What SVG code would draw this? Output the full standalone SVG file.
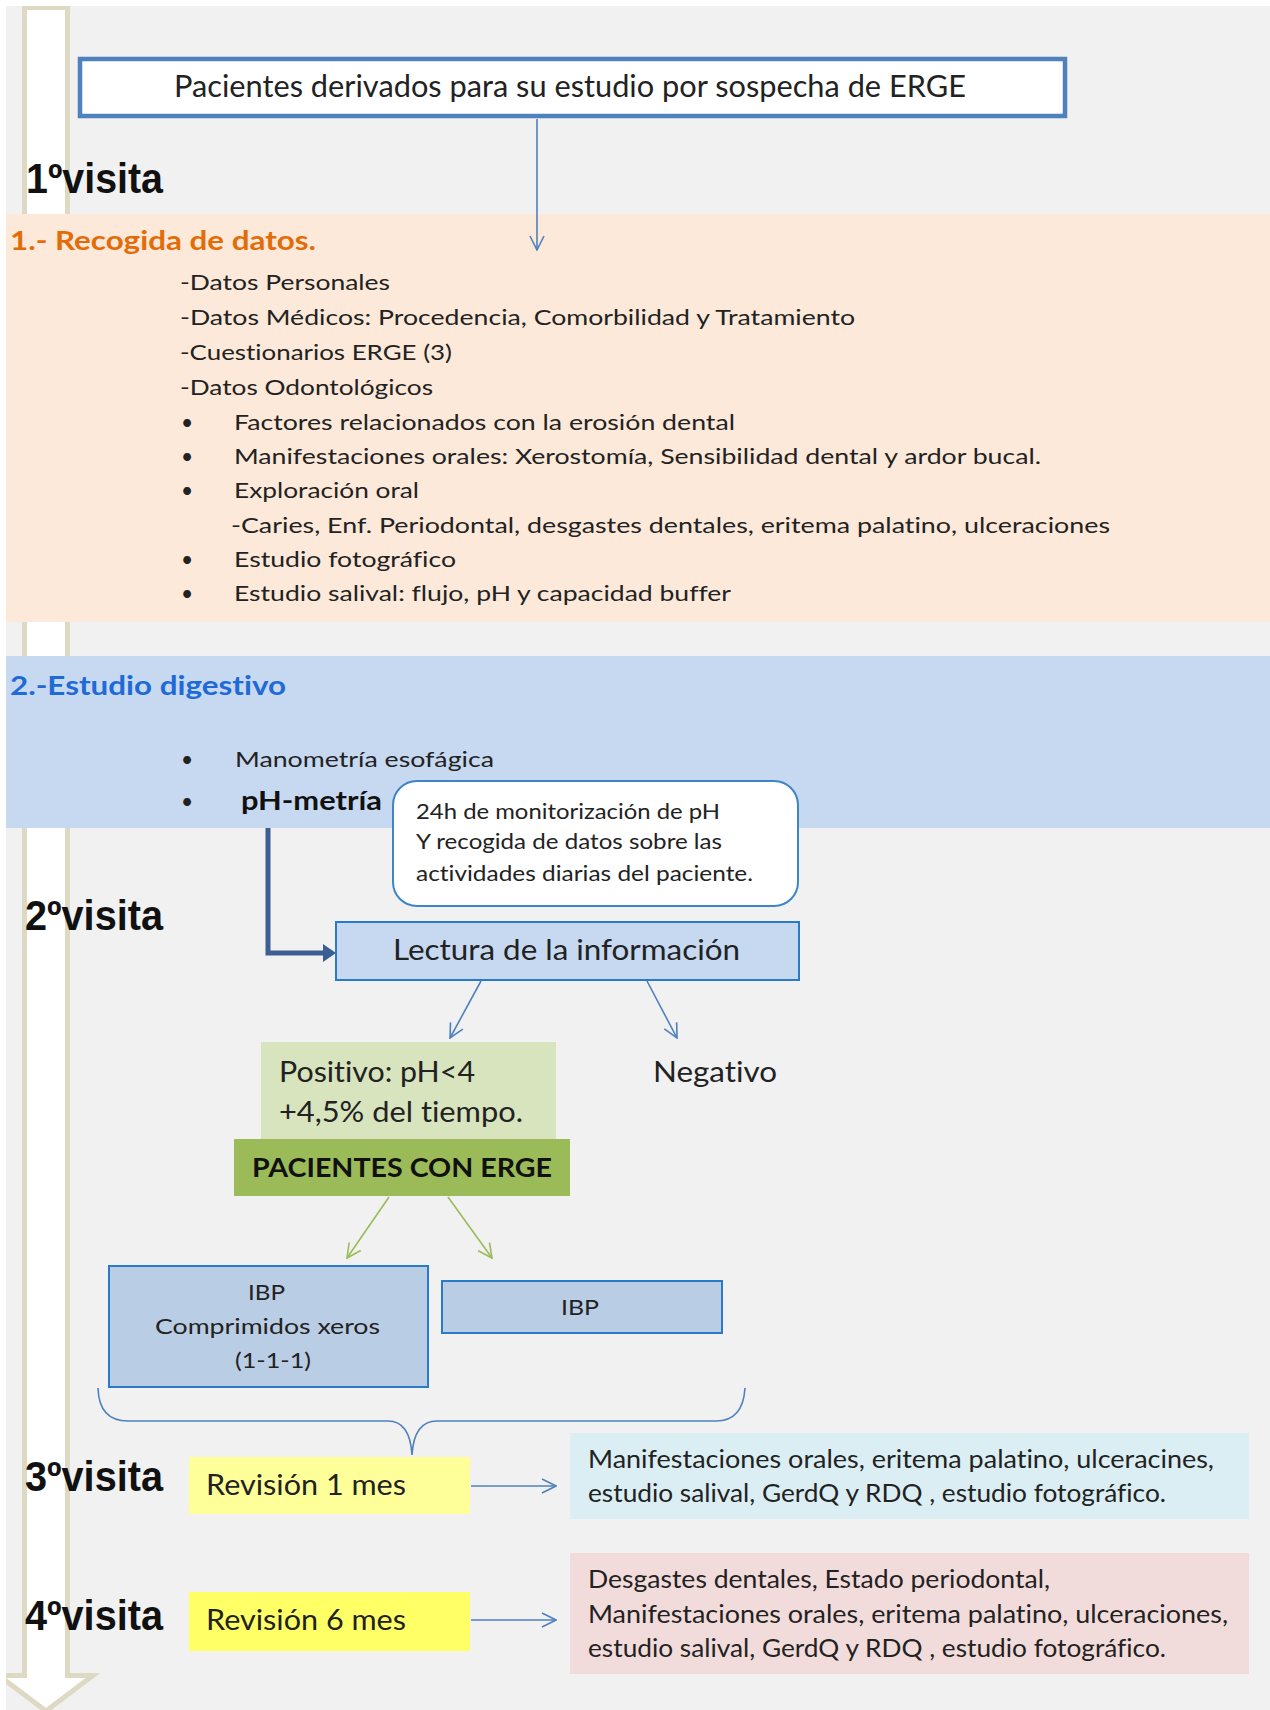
<svg xmlns="http://www.w3.org/2000/svg" width="1270" height="1710" viewBox="0 0 1270 1710">
<defs>
<style>
text{font-family:Lato,'Liberation Sans',Arial,sans-serif;fill:#222;font-variant-ligatures:none}
.b{font-weight:bold}
.visit{font-family:'Liberation Sans',Arial,sans-serif;font-size:42px;font-weight:bold;fill:#111}
.list{font-size:21px}
.cl{font-size:22px}
.mid{font-size:28px}
.sm{font-size:21px}
.det{font-size:25px}
.conn{fill:none;stroke:#4f81bd;stroke-width:1.6}
.gconn{fill:none;stroke:#9bbb59;stroke-width:1.6}
.box{fill:#c6d9f1;stroke:#2a7ac8;stroke-width:2}
.ibp{fill:#b9cde5;stroke:#2a7ac8;stroke-width:2}
</style>
<marker id="ab" viewBox="0 0 16 16" refX="15" refY="8" markerWidth="16" markerHeight="16" markerUnits="userSpaceOnUse" orient="auto"><path d="M1,1 L15,8 L1,15" fill="none" stroke="#4f81bd" stroke-width="1.6"/></marker>
<marker id="ag" viewBox="0 0 16 16" refX="15" refY="8" markerWidth="16" markerHeight="16" markerUnits="userSpaceOnUse" orient="auto"><path d="M1,1 L15,8 L1,15" fill="none" stroke="#9bbb59" stroke-width="1.6"/></marker>
<marker id="ad" viewBox="0 0 13 18" refX="0" refY="9" markerWidth="13" markerHeight="18" markerUnits="userSpaceOnUse" orient="auto"><path d="M0,0 L13,9 L0,18 Z" fill="#3c5f93"/></marker>
<clipPath id="pg"><rect x="6" y="6" width="1264" height="1704"/></clipPath>
</defs>
<rect width="1270" height="1710" fill="#ffffff"/>
<rect x="6" y="6" width="1264" height="1704" fill="#f1f1f1"/>
<g id="timeline-arrow" clip-path="url(#pg)">
<path d="M24.5,7.5 H67.5 V1675.5 H93 L46,1711 L-1,1675.5 H24.5 Z" fill="#ffffff" stroke="#ddd9c3" stroke-width="5"/>
</g>
<g id="band-recogida">
<rect x="6" y="214" width="1264" height="408" fill="#fde9d9"/>
<text x="10" y="250" class="b" font-size="27" style="fill:#e36c09" textLength="306" lengthAdjust="spacingAndGlyphs">1.- Recogida de datos.</text>
<text class="list" x="180" y="290" textLength="210" lengthAdjust="spacingAndGlyphs">-Datos Personales</text>
<text class="list" x="180" y="325" textLength="675" lengthAdjust="spacingAndGlyphs">-Datos Médicos: Procedencia, Comorbilidad y Tratamiento</text>
<text class="list" x="180" y="360" textLength="272" lengthAdjust="spacingAndGlyphs">-Cuestionarios ERGE (3)</text>
<text class="list" x="180" y="395" textLength="253" lengthAdjust="spacingAndGlyphs">-Datos Odontológicos</text>
<text class="list" x="181" y="430">•</text>
<text class="list" x="234" y="430" textLength="501" lengthAdjust="spacingAndGlyphs">Factores relacionados con la erosión dental</text>
<text class="list" x="181" y="464">•</text>
<text class="list" x="234" y="464" textLength="807" lengthAdjust="spacingAndGlyphs">Manifestaciones orales: Xerostomía, Sensibilidad dental y ardor bucal.</text>
<text class="list" x="181" y="498">•</text>
<text class="list" x="234" y="498" textLength="185" lengthAdjust="spacingAndGlyphs">Exploración oral</text>
<text class="list" x="231" y="533" textLength="879" lengthAdjust="spacingAndGlyphs">-Caries, Enf. Periodontal, desgastes dentales, eritema palatino, ulceraciones</text>
<text class="list" x="181" y="567">•</text>
<text class="list" x="234" y="567" textLength="222" lengthAdjust="spacingAndGlyphs">Estudio fotográfico</text>
<text class="list" x="181" y="601">•</text>
<text class="list" x="234" y="601" textLength="497" lengthAdjust="spacingAndGlyphs">Estudio salival: flujo, pH y capacidad buffer</text>
</g>
<g id="band-digestivo">
<rect x="6" y="656" width="1264" height="172" fill="#c6d9f1"/>
<text x="10" y="695" class="b" font-size="26" style="fill:#1f6ad6" textLength="276" lengthAdjust="spacingAndGlyphs">2.-Estudio digestivo</text>
<text class="list" x="181" y="767">•</text>
<text class="list" x="235" y="767" font-size="22" textLength="259" lengthAdjust="spacingAndGlyphs">Manometría esofágica</text>
<text class="list" x="181" y="809">•</text>
<text x="241" y="810" class="b" font-size="26" style="fill:#111" textLength="141" lengthAdjust="spacingAndGlyphs">pH-metría</text>
</g>
<g id="visit-labels">
<text class="visit" x="26" y="193" textLength="137" lengthAdjust="spacingAndGlyphs">1ºvisita</text>
<text class="visit" x="25" y="930" textLength="138" lengthAdjust="spacingAndGlyphs">2ºvisita</text>
<text class="visit" x="25" y="1491" textLength="138" lengthAdjust="spacingAndGlyphs">3ºvisita</text>
<text class="visit" x="25" y="1630" textLength="138" lengthAdjust="spacingAndGlyphs">4ºvisita</text>
</g>
<g id="node-pacientes">
<rect x="80" y="59" width="985" height="57" fill="#ffffff" stroke="#4f81bd" stroke-width="4.5"/>
<text x="174" y="97" font-size="30" textLength="792" lengthAdjust="spacingAndGlyphs">Pacientes derivados para su estudio por sospecha de ERGE</text>
</g>
<g id="node-monitorizacion">
<rect x="393" y="781" width="405" height="125" rx="24" ry="24" fill="#ffffff" stroke="#3d85c6" stroke-width="2"/>
<text class="cl" x="416" y="819" textLength="304" lengthAdjust="spacingAndGlyphs">24h de monitorización de pH</text>
<text class="cl" x="416" y="849" textLength="306" lengthAdjust="spacingAndGlyphs">Y recogida de datos sobre las</text>
<text class="cl" x="416" y="881" textLength="337" lengthAdjust="spacingAndGlyphs">actividades diarias del paciente.</text>
</g>
<g id="node-lectura">
<rect class="box" x="336" y="922" width="463" height="58"/>
<text class="mid" x="393" y="960" textLength="347" lengthAdjust="spacingAndGlyphs">Lectura de la información</text>
</g>
<g id="node-positivo">
<rect x="261" y="1042" width="295" height="98" fill="#d7e4bd"/>
<text class="mid" x="279" y="1082" textLength="196" lengthAdjust="spacingAndGlyphs">Positivo: pH&lt;4</text>
<text class="mid" x="279" y="1122" textLength="244" lengthAdjust="spacingAndGlyphs">+4,5% del tiempo.</text>
</g>
<g id="node-negativo">
<text class="mid" x="653" y="1082" textLength="124" lengthAdjust="spacingAndGlyphs">Negativo</text>
</g>
<g id="node-erge">
<rect x="234" y="1139" width="336" height="57" fill="#9bbb59"/>
<text x="252" y="1177" class="b" font-size="27" style="fill:#111" textLength="300" lengthAdjust="spacingAndGlyphs">PACIENTES CON ERGE</text>
</g>
<g id="node-ibp-xeros">
<rect class="ibp" x="109" y="1266" width="319" height="121"/>
<text class="sm" x="248" y="1300" textLength="37" lengthAdjust="spacingAndGlyphs">IBP</text>
<text class="sm" x="155" y="1334" textLength="225" lengthAdjust="spacingAndGlyphs">Comprimidos xeros</text>
<text class="sm" x="235" y="1368" textLength="76" lengthAdjust="spacingAndGlyphs">(1-1-1)</text>
</g>
<g id="node-ibp">
<rect class="ibp" x="442" y="1281" width="280" height="52"/>
<text class="sm" x="561" y="1315" textLength="38" lengthAdjust="spacingAndGlyphs">IBP</text>
</g>
<g id="node-rev1">
<rect x="189" y="1457" width="281" height="57" fill="#ffff99"/>
<text class="mid" x="206" y="1495" textLength="200" lengthAdjust="spacingAndGlyphs">Revisión 1 mes</text>
</g>
<g id="node-rev6">
<rect x="189" y="1592" width="281" height="59" fill="#ffff66"/>
<text class="mid" x="206" y="1630" textLength="200" lengthAdjust="spacingAndGlyphs">Revisión 6 mes</text>
</g>
<g id="node-detalle1">
<rect x="570" y="1433" width="679" height="86" fill="#dbeef3"/>
<text class="det" x="588" y="1468" textLength="626" lengthAdjust="spacingAndGlyphs">Manifestaciones orales, eritema palatino, ulceracines,</text>
<text class="det" x="588" y="1502" textLength="578" lengthAdjust="spacingAndGlyphs">estudio salival, GerdQ y  RDQ , estudio fotográfico.</text>
</g>
<g id="node-detalle6">
<rect x="570" y="1553" width="679" height="121" fill="#f2dcdb"/>
<text class="det" x="588" y="1588" textLength="462" lengthAdjust="spacingAndGlyphs">Desgastes dentales, Estado periodontal,</text>
<text class="det" x="588" y="1623" textLength="640" lengthAdjust="spacingAndGlyphs">Manifestaciones orales, eritema palatino, ulceraciones,</text>
<text class="det" x="588" y="1657" textLength="578" lengthAdjust="spacingAndGlyphs">estudio salival, GerdQ y  RDQ , estudio fotográfico.</text>
</g>
<g id="connectors">
<path class="conn" d="M537,119 V250" marker-end="url(#ab)"/>
<path d="M268,828 V953 H323" fill="none" stroke="#3c5f93" stroke-width="5" marker-end="url(#ad)"/>
<path class="conn" d="M481,981 L450,1038" marker-end="url(#ab)"/>
<path class="conn" d="M647,981 L677,1038" marker-end="url(#ab)"/>
<path class="gconn" d="M389,1197 L347,1258" marker-end="url(#ag)"/>
<path class="gconn" d="M448,1197 L492,1258" marker-end="url(#ag)"/>
<path class="conn" stroke-width="2" d="M98,1388 Q99,1421 128,1421 L388,1421 Q410,1421 412,1455 Q414,1421 437,1421 L716,1421 Q743,1421 745,1388"/>
<path class="conn" d="M471,1486 H556" marker-end="url(#ab)"/>
<path class="conn" d="M471,1620 H556" marker-end="url(#ab)"/>
</g>
</svg>
